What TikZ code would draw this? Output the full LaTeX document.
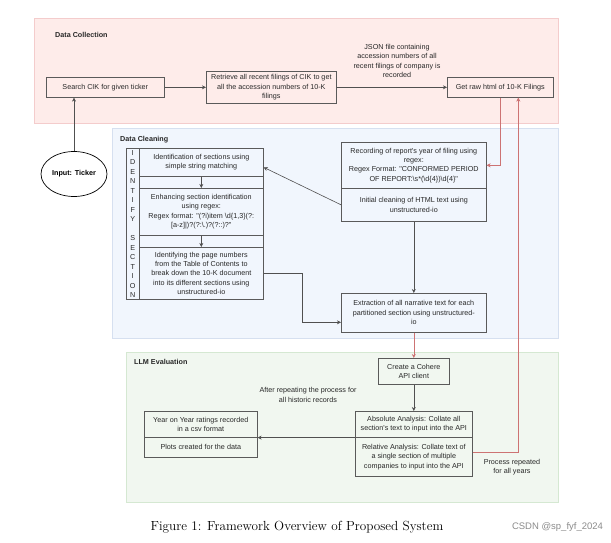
\documentclass[tikz,border=0pt]{standalone}
\usepackage{fontspec}
\newfontfamily\arial{Liberation Sans}
\usetikzlibrary{arrows.meta,calc,shapes.geometric}
\definecolor{boxc}{RGB}{90,90,90}
\definecolor{linec}{RGB}{80,80,80}
\definecolor{txtc}{RGB}{40,40,40}
\definecolor{redc}{RGB}{205,115,115}
\definecolor{pinkfill}{RGB}{254,236,234}
\definecolor{pinkdraw}{RGB}{244,204,204}
\definecolor{bluefill}{RGB}{241,246,253}
\definecolor{bluedraw}{RGB}{214,224,240}
\definecolor{greenfill}{RGB}{241,247,240}
\definecolor{greendraw}{RGB}{213,232,210}
\tikzset{
  txt/.style={font=\arial\fontsize{7.2}{9.4}\selectfont, text=txtc, align=center, inner sep=0pt},
  box/.style={txt, draw=boxc, line width=0.6pt, anchor=north west},
  region/.style={line width=0.6pt},
  rtitle/.style={font=\arial\bfseries\fontsize{7.2}{9}\selectfont, text=txtc, anchor=west, inner sep=0pt},
  arr/.style={draw=linec, line width=0.6pt, -{Stealth[length=4pt,width=4pt,inset=1.2pt]}},
  redarr/.style={draw=redc, line width=0.6pt, -{Stealth[length=4pt,width=4pt,inset=1.2pt]}},
}
\begin{document}
\begin{tikzpicture}[x=1pt,y=-1pt]
\useasboundingbox (0,0) rectangle (611,543);
\fill[white] (0,0) rectangle (611,543);

% regions
\filldraw[region, fill=pinkfill, draw=pinkdraw] (34,18) rectangle (558,123);
\filldraw[region, fill=bluefill, draw=bluedraw] (112,128) rectangle (558,338);
\filldraw[region, fill=greenfill, draw=greendraw] (126,352) rectangle (558,502);
\node[rtitle] (tcoll) at (55,35) {Data Collection};
\node[rtitle] (tclean) at (120,140) {Data Cleaning};
\node[rtitle] (tllm) at (134,362) {LLM Evaluation};

% data collection
\node[box, minimum width=118pt, minimum height=20pt] (search) at (46,77) {Search CIK for given ticker};
\node[box, minimum width=130pt, minimum height=32pt] (retrieve) at (206,71) {Retrieve all recent filings of CIK to get\\all the accession numbers of 10-K\\filings};
\node[box, minimum width=106pt, minimum height=20pt] (getraw) at (447,77) {Get raw html of 10-K Filings};
\node[txt] (json) at (397,61) {JSON file containing\\accession numbers of all\\recent filings of company is\\recorded};
\node[ellipse, draw=black, line width=0.7pt, fill=white, minimum width=66pt, minimum height=45pt, inner sep=0pt,
      font=\arial\bfseries\fontsize{7.2}{9}\selectfont] (ticker) at (74,174) {Input: Ticker};

% data cleaning
\node[box, minimum width=137pt, minimum height=151pt] (idcont) at (126,148) {};
\draw[draw=boxc, line width=0.6pt] (139,148) -- (139,299);
\foreach \l [count=\i from 0] in {I,D,E,N,T,I,F,Y,{},S,E,C,T,I,O,N}
  \node[txt] (letter\i) at (132.7,{153+\i*9.47}) {\l};
\node[box, minimum width=124pt, minimum height=28pt] (box1) at (139,148) {Identification of sections using\\simple string matching};
\node[box, minimum width=124pt, minimum height=47pt] (box2) at (139,188) {Enhancing section identification\\using regex:\\Regex format: "(?i)item \textbackslash d\{1,3\}(?:\\{}[a-z]|)?(?:\textbackslash .)?(?::)?"};
\node[box, minimum width=124pt, minimum height=52pt] (box3) at (139,247) {Identifying the page numbers\\from the Table of Contents to\\break down the 10-K document\\into its different sections using\\unstructured-io};
\node[box, minimum width=145pt, minimum height=46pt] (recording) at (341,142) {Recording of report's year of filing using\\regex:\\Regex Format: "CONFORMED PERIOD\\OF REPORT:\textbackslash s*(\textbackslash d\{4\})\textbackslash d\{4\}"};
\node[box, minimum width=145pt, minimum height=33pt] (initial) at (341,188) {Initial cleaning of HTML text using\\unstructured-io};
\node[box, minimum width=145pt, minimum height=39pt] (extraction) at (341,293) {Extraction of all narrative text for each\\partitioned section using unstructured-\\io};

% LLM evaluation
\node[box, minimum width=71pt, minimum height=26pt] (cohere) at (378,358) {Create a Cohere\\API client};
\node[box, minimum width=117pt, minimum height=26pt] (absolute) at (355,411) {Absolute Analysis: Collate all\\section's text to input into the API};
\node[box, minimum width=117pt, minimum height=39pt] (relative) at (355,437) {Relative Analysis: Collate text of\\a single section of multiple\\companies to input into the API};
\node[box, minimum width=113pt, minimum height=26pt] (year) at (144,411) {Year on Year ratings recorded\\in a csv format};
\node[box, minimum width=113pt, minimum height=20pt] (plots) at (144,437) {Plots created for the data};
\node[txt] (after) at (308,395) {After repeating the process for\\all historic records};
\node[txt] (process) at (512,467) {Process repeated\\for all years};

% connectors
\draw[arr] (ticker.north) -- (ticker.north |- search.south);
\draw[arr] (search.east) -- (retrieve.west);
\draw[arr] (retrieve.east) -- (getraw.west);
\draw[redarr] (getraw.south) |- (recording.east);
\draw[arr] (initial.west) -- ($(box1.east)+(0,5)$);
\draw[arr] (box1.south) -- (box2.north);
\draw[arr] (box2.south) -- (box3.north);
\draw[arr] (initial.south) -- (extraction.north);
\draw[arr] (box3.east) -- ++(39,0) |- ($(extraction.west)+(0,9.5)$);
\draw[redarr] (extraction.south) -- (cohere.north);
\draw[arr] (cohere.south) -- (absolute.north);
\draw[arr] (absolute.south west) -- (year.south east);
\draw[redarr] ($(relative.east)+(0,-5)$) -| ($(getraw.south)+(18,0)$);

% caption
\node[font=\fontsize{13.2}{15}\selectfont, inner sep=0pt] (caption) at (297,527) {Figure 1: Framework Overview of Proposed System};
\node[font=\arial\fontsize{9.5}{11}\selectfont, text=black!45, inner sep=0pt] (csdn) at (557.5,527) {CSDN @sp\_fyf\_2024};
\end{tikzpicture}
\end{document}
